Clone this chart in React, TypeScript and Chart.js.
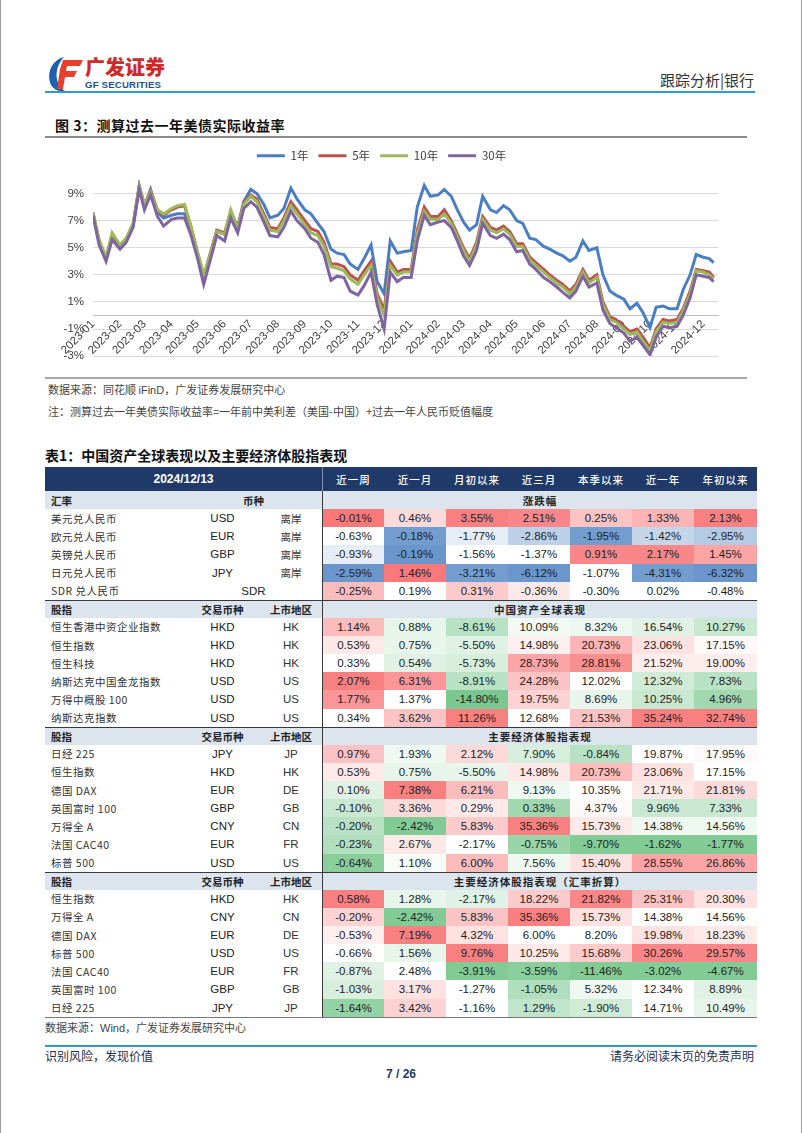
import React, { useEffect, useRef } from "react";
import { Chart, registerables } from "chart.js";
Chart.register(...registerables);

// ---------------- chart data ----------------
const months = [
  "2023-01", "2023-02", "2023-03", "2023-04", "2023-05", "2023-06",
  "2023-07", "2023-08", "2023-09", "2023-10", "2023-11", "2023-12",
  "2024-01", "2024-02", "2024-03", "2024-04", "2024-05", "2024-06",
  "2024-07", "2024-08", "2024-09", "2024-10", "2024-11", "2024-12",
];
const weekDays = ["01", "08", "16", "23"];
const finalDays = ["01", "08", "13"];
const axisEnd = "2024-12-18";
const yTicks = [-3, -1, 1, 3, 5, 7, 9];
const seriesNames = ["1年", "5年", "10年", "30年"];
const seriesColors = ["#4A7EC4", "#C0504D", "#9BBB59", "#8064A2"];

const yield1y = [
  7.6, 5.4, 4.3, 5.9, 5.2, 5.6, 6.6, 9.6, 8.1, 9.3, 7.6, 7.2,
  7.4, 7.5, 7.5, 6.4, 4.5, 2.8, 4.6, 6.2, 6.0, 7.5, 6.5, 8.4,
  9.3, 9.0, 8.2, 7.2, 7.4, 7.9, 9.4, 8.6, 7.8, 7.5, 6.8, 6.2,
  4.9, 4.6, 4.5, 3.8, 3.4, 4.2, 5.2, 2.5, 1.6, 5.5, 4.6, 4.7,
  4.8, 8.0, 9.6, 8.8, 8.9, 9.3, 8.8, 7.8, 6.9, 6.3, 6.7, 8.8,
  7.8, 7.6, 8.1, 7.8, 7.0, 6.8, 5.7, 5.6, 5.1, 4.9, 4.6, 4.4,
  4.0, 4.3, 5.5, 4.8, 5.0, 3.0, 1.8, 1.5, 1.2, 0.5, 0.9, 0.2,
  -0.9, 0.6, 0.7, 0.5, 0.5, 1.9, 3.0, 4.5, 4.3, 4.2, 3.9,
];
const yield5y = [
  7.5, 5.5, 4.2, 6.0, 5.1, 5.6, 6.7, 9.5, 8.1, 9.2, 7.8, 7.4,
  7.8, 8.0, 8.1, 6.6, 4.6, 2.9, 4.7, 6.3, 6.1, 7.7, 6.5, 8.3,
  8.9, 8.6, 7.5, 6.5, 6.4, 7.2, 8.4, 7.8, 7.0, 6.4, 6.2, 5.4,
  3.8, 3.8, 3.6, 3.0, 2.6, 3.3, 4.0, 1.6, 0.4, 4.0, 3.2, 3.4,
  3.4, 6.3, 8.0, 7.3, 7.3, 7.8, 7.0, 6.0, 5.0, 4.2, 5.4, 7.3,
  6.5, 6.3, 6.6, 6.2, 5.3, 5.3, 4.3, 3.9, 3.4, 3.0, 2.6, 2.3,
  1.8, 2.3, 3.4, 2.6, 3.0, 1.0, -0.1, -0.3, -0.8, -1.2, -1.0, -1.6,
  -2.4, -1.0, -0.3, -0.4, -0.3, 0.5, 1.8, 3.4, 3.3, 3.2, 2.8,
];
const yield10y = [
  7.6, 5.6, 4.3, 6.1, 5.2, 5.7, 6.8, 9.5, 8.2, 9.1, 7.8, 7.5,
  7.9, 8.1, 8.2, 6.7, 4.7, 3.0, 4.6, 6.2, 6.0, 7.8, 6.4, 8.2,
  8.8, 8.4, 7.3, 6.3, 6.2, 7.0, 8.1, 7.5, 6.7, 6.1, 5.9, 5.1,
  3.6, 3.5, 3.3, 2.7, 2.3, 3.0, 3.7, 1.3, 0.0, 3.7, 3.0, 3.2,
  3.2, 6.0, 7.7, 7.1, 7.1, 7.5, 6.8, 5.8, 4.8, 4.0, 5.2, 7.1,
  6.3, 6.1, 6.4, 6.0, 5.1, 5.1, 4.1, 3.7, 3.2, 2.8, 2.4, 2.1,
  1.6, 2.1, 3.2, 2.4, 2.8, 0.8, -0.3, -0.5, -1.0, -1.4, -1.2, -1.9,
  -2.6, -1.2, -0.5, -0.6, -0.5, 0.3, 1.6, 3.3, 3.2, 3.0, 2.7,
];
const yield30y = [
  7.4, 5.2, 4.0, 5.6, 4.9, 5.4, 6.5, 9.3, 7.8, 8.9, 7.3, 6.6,
  7.1, 7.2, 7.2, 6.0, 4.2, 2.3, 4.2, 5.9, 5.5, 7.2, 6.1, 7.9,
  8.4, 8.0, 6.9, 5.9, 5.8, 6.5, 7.7, 7.0, 6.4, 5.7, 5.4, 4.5,
  2.6, 2.9, 2.8, 1.8, 1.5, 2.2, 3.2, 0.8, -1.0, 3.2, 2.5, 2.8,
  2.8, 5.5, 7.4, 6.7, 6.9, 7.0, 6.5, 5.5, 4.4, 3.7, 4.8, 6.8,
  5.9, 5.7, 6.0, 5.6, 4.7, 4.8, 3.8, 3.4, 2.8, 2.5, 2.1, 1.7,
  1.3, 1.8, 2.9, 2.1, 2.4, 0.4, -0.6, -0.9, -1.3, -1.9, -1.6, -2.2,
  -2.9, -1.6, -0.8, -0.9, -0.8, 0.0, 1.3, 3.0, 2.9, 2.8, 2.5,
];

// ---------------- table data ----------------
const periods = ["近一周", "近一月", "月初以来", "近三月", "本季以来", "近一年", "年初以来"];

const fxNames = ["美元兑人民币", "欧元兑人民币", "英镑兑人民币", "日元兑人民币", "SDR 兑人民币"];
const fxCodes = ["USD", "EUR", "GBP", "JPY", "SDR"];
const fxMarkets = ["离岸", "离岸", "离岸", "离岸", ""];
const fxValues = [
  [-0.01, 0.46, 3.55, 2.51, 0.25, 1.33, 2.13],
  [-0.63, -0.18, -1.77, -2.86, -1.95, -1.42, -2.95],
  [-0.93, -0.19, -1.56, -1.37, 0.91, 2.17, 1.45],
  [-2.59, 1.46, -3.21, -6.12, -1.07, -4.31, -6.32],
  [-0.25, 0.19, 0.31, -0.36, -0.30, 0.02, -0.48],
];

const cnNames = ["恒生香港中资企业指数", "恒生指数", "恒生科技", "纳斯达克中国金龙指数", "万得中概股 100", "纳斯达克指数"];
const cnCodes = ["HKD", "HKD", "HKD", "USD", "USD", "USD"];
const cnMarkets = ["HK", "HK", "HK", "US", "US", "US"];
const cnValues = [
  [1.14, 0.88, -8.61, 10.09, 8.32, 16.54, 10.27],
  [0.53, 0.75, -5.50, 14.98, 20.73, 23.06, 17.15],
  [0.33, 0.54, -5.73, 28.73, 28.81, 21.52, 19.00],
  [2.07, 6.31, -8.91, 24.28, 12.02, 12.32, 7.83],
  [1.77, 1.37, -14.80, 19.75, 8.69, 10.25, 4.96],
  [0.34, 3.62, 11.26, 12.68, 21.53, 35.24, 32.74],
];

const glNames = ["日经 225", "恒生指数", "德国 DAX", "英国富时 100", "万得全 A", "法国 CAC40", "标普 500"];
const glCodes = ["JPY", "HKD", "EUR", "GBP", "CNY", "EUR", "USD"];
const glMarkets = ["JP", "HK", "DE", "GB", "CN", "FR", "US"];
const glValues = [
  [0.97, 1.93, 2.12, 7.90, -0.84, 19.87, 17.95],
  [0.53, 0.75, -5.50, 14.98, 20.73, 23.06, 17.15],
  [0.10, 7.38, 6.21, 9.13, 10.35, 21.71, 21.81],
  [-0.10, 3.36, 0.29, 0.33, 4.37, 9.96, 7.33],
  [-0.20, -2.42, 5.83, 35.36, 15.73, 14.38, 14.56],
  [-0.23, 2.67, -2.17, -0.75, -9.70, -1.62, -1.77],
  [-0.64, 1.10, 6.00, 7.56, 15.40, 28.55, 26.86],
];

const fxAdjNames = ["恒生指数", "万得全 A", "德国 DAX", "标普 500", "法国 CAC40", "英国富时 100", "日经 225"];
const fxAdjCodes = ["HKD", "CNY", "EUR", "USD", "EUR", "GBP", "JPY"];
const fxAdjMarkets = ["HK", "CN", "DE", "US", "FR", "GB", "JP"];
const fxAdjValues = [
  [0.58, 1.28, -2.17, 18.22, 21.82, 25.31, 20.30],
  [-0.20, -2.42, 5.83, 35.36, 15.73, 14.38, 14.56],
  [-0.53, 7.19, 4.32, 6.00, 8.20, 19.98, 18.23],
  [-0.66, 1.56, 9.76, 10.25, 15.68, 30.26, 29.57],
  [-0.87, 2.48, -3.91, -3.59, -11.46, -3.02, -4.67],
  [-1.03, 3.17, -1.27, -1.05, 5.32, 12.34, 8.89],
  [-1.64, 3.42, -1.16, 1.29, -1.90, 14.71, 10.49],
];

// ---------------- styling (heat-map intensity per cell: + red, - blue/green) ----------------
const fxShade = [
  [0.9, 0.25, 0.85, 0.8, 0.4, 0.5, 0.85],
  [0, -0.85, -0.15, -0.4, -0.85, -0.35, -0.45],
  [-0.15, -0.9, 0, 0, 0.8, 0.8, 0.6],
  [-0.9, 0.9, -0.85, -0.9, 0, -0.85, -0.9],
  [0.45, 0, 0.35, 0.15, 0, 0, 0],
];
const cnShade = [
  [0.45, -0.15, -0.45, -0.08, -0.12, -0.2, -0.35],
  [0.15, -0.15, -0.2, 0.1, 0.5, 0.2, 0.05],
  [0, -0.2, -0.25, 0.6, 0.75, 0.12, 0.12],
  [0.85, 0.7, -0.45, 0.4, 0, -0.3, -0.45],
  [0.7, 0, -0.85, 0.3, -0.15, -0.35, -0.6],
  [0, 0.4, 0.85, 0, 0.4, 0.85, 0.85],
];
const glShade = [
  [0.4, -0.1, 0.25, -0.25, -0.45, 0, 0.05],
  [0.15, -0.15, -0.15, 0.15, 0.45, 0.2, 0],
  [-0.2, 0.85, 0.45, -0.1, 0, 0.15, 0.25],
  [-0.35, 0.25, 0.15, -0.6, 0.05, -0.35, -0.35],
  [-0.45, -0.8, 0.35, 0.85, 0.15, -0.1, -0.1],
  [-0.5, 0.15, 0, -0.65, -0.8, -0.8, -0.8],
  [-0.75, -0.05, 0.45, -0.1, 0.2, 0.6, 0.6],
];
const fxAdjShade = [
  [0.85, -0.15, -0.2, 0.35, 0.8, 0.4, 0.2],
  [0.3, -0.8, 0.4, 0.85, 0.2, 0, 0.02],
  [0.1, 0.85, 0.2, 0, 0, 0.2, 0.15],
  [0, -0.15, 0.85, 0.15, 0.35, 0.8, 0.8],
  [-0.2, 0, -0.8, -0.75, -0.8, -0.8, -0.8],
  [-0.25, 0.2, 0, -0.5, -0.1, 0, -0.2],
  [-0.7, 0.3, 0, -0.4, -0.3, 0, -0.15],
];

const CJK = '"Noto Sans CJK SC", "Noto Sans", sans-serif';
const LAT = '"Liberation Sans", Arial, "Noto Sans CJK SC", sans-serif';

const dayIndex = (s: string) => {
  const [y, m, d] = s.split("-").map(Number);
  return (Date.UTC(y, m - 1, d) - Date.UTC(2023, 0, 1)) / 86400000;
};
const obsDates = months.flatMap((m, i) =>
  (i < months.length - 1 ? weekDays : finalDays).map((d) => `${m}-${d}`)
);
const toPoints = (vals: number[]) => vals.map((v, i) => ({ x: dayIndex(obsDates[i]), y: v }));

const legendSpacing = {
  id: "legendSpacing",
  beforeLayout(chart: any) {
    const lg = chart.legend;
    if (lg && !lg._patched) {
      const orig = lg.fit;
      lg.fit = function () {
        orig.call(this);
        this.height += 8.5;
      };
      lg._patched = true;
    }
  },
};

function YieldChart() {
  const ref = useRef<HTMLCanvasElement>(null);
  useEffect(() => {
    const tickFont = { family: '"Liberation Sans", Arial, sans-serif', size: 11.5 };
    const chart = new Chart(ref.current as HTMLCanvasElement, {
      type: "line",
      data: {
        datasets: [yield1y, yield5y, yield10y, yield30y].map((vals, i) => ({
          label: seriesNames[i],
          data: toPoints(vals),
          borderColor: seriesColors[i],
          backgroundColor: seriesColors[i],
          borderWidth: 3,
          pointRadius: 0,
          tension: 0,
          order: 4 - i,
        })),
      },
      options: {
        responsive: false,
        animation: false,
        layout: { padding: { left: 0, right: 39, top: 0, bottom: 10 } },
        plugins: {
          tooltip: { enabled: false },
          legend: {
            position: "top",
            labels: {
              boxWidth: 28,
              boxHeight: 3,
              padding: 10,
              color: "#404040",
              font: { family: '"Noto Sans CJK SC", "Liberation Sans", sans-serif', size: 11.5 },
              sort: (a: any, b: any) => a.datasetIndex - b.datasetIndex,
              generateLabels: (c: any) =>
                (Chart.defaults.plugins.legend.labels.generateLabels as any)(c).map((l: any) => ({
                  ...l,
                  lineWidth: 0,
                })),
            },
          },
        },
        scales: {
          x: {
            type: "linear",
            min: 0,
            max: dayIndex(axisEnd),
            position: { y: 0 } as any,
            afterBuildTicks: (s: any) => {
              s.ticks = months.map((m) => ({ value: dayIndex(m + "-01") }));
            },
            afterFit: (s: any) => {
              s.height = 0;
            },
            grid: { display: true, drawOnChartArea: false, drawTicks: false },
            border: { display: true, color: "#BFBFBF", width: 1 },
            ticks: {
              autoSkip: false,
              minRotation: 45,
              maxRotation: 45,
              padding: 2,
              color: "#404040",
              font: tickFont,
              callback: (_v: any, i: number) => months[i],
            },
          },
          y: {
            type: "linear",
            min: -3,
            max: 10,
            afterBuildTicks: (s: any) => {
              s.ticks = yTicks.map((v) => ({ value: v }));
            },
            afterFit: (s: any) => {
              s.width = 48;
            },
            grid: { color: "#D9D9D9", drawTicks: false },
            border: { display: false },
            ticks: {
              padding: 9,
              color: "#404040",
              font: tickFont,
              callback: (v: any) => v + "%",
            },
          },
        },
      },
      plugins: [legendSpacing],
    } as any);
    return () => chart.destroy();
  }, []);
  return (
    <canvas
      ref={ref}
      width={712}
      height={232}
      style={{ position: "absolute", left: 45, top: 140, width: 712, height: 232 }}
    />
  );
}

// ---------------- table ----------------
const colW = [140, 75, 62, 62, 62, 62, 62, 62, 62, 63];
const ROW_H = 18.14;
const heat = (s: number, blue: boolean) => {
  const pos = [248, 105, 107];
  const neg = blue ? [90, 138, 198] : [99, 190, 123];
  const c = s >= 0 ? pos : neg;
  const a = Math.min(1, Math.abs(s));
  const mix = c.map((v) => Math.round(255 + (v - 255) * a));
  return `rgb(${mix.join(",")})`;
};
const fmt = (v: number) => v.toFixed(2) + "%";

const cellBase: React.CSSProperties = {
  boxSizing: "border-box",
  height: "100%",
  display: "flex",
  alignItems: "center",
  justifyContent: "center",
  whiteSpace: "nowrap",
  overflow: "hidden",
};

function SectionHeader(props: { first: string; code: string; market?: string; title: string; topLine: boolean }) {
  const w3 = colW.slice(3).reduce((a, b) => a + b, 0);
  return (
    <div
      style={{
        display: "flex",
        height: ROW_H,
        background: "#DCE4EE",
        borderTop: props.topLine ? "1.5px solid #3A3A3A" : "none",
        boxSizing: "border-box",
        fontFamily: CJK,
        fontWeight: 700,
        fontSize: 10.5,
        color: "#222",
      }}
    >
      <div style={{ ...cellBase, width: colW[0], justifyContent: "flex-start", paddingLeft: 6 }}>{props.first}</div>
      {props.market === undefined ? (
        <div style={{ ...cellBase, width: colW[1] + colW[2] }}>{props.code}</div>
      ) : (
        <>
          <div style={{ ...cellBase, width: colW[1] }}>{props.code}</div>
          <div style={{ ...cellBase, width: colW[2] }}>{props.market}</div>
        </>
      )}
      <div style={{ ...cellBase, width: w3, borderLeft: "1.5px solid #3A3A3A", letterSpacing: 1 }}>{props.title}</div>
    </div>
  );
}

function DataRow(props: { name: string; code: string; market: string; values: number[]; shades: number[]; blue: boolean }) {
  const merged = props.market === "";
  return (
    <div style={{ display: "flex", height: ROW_H }}>
      <div
        style={{
          ...cellBase,
          width: colW[0],
          justifyContent: "flex-start",
          paddingLeft: 6,
          fontFamily: CJK,
          fontSize: 10.5,
          color: "#333",
          letterSpacing: 0.5,
        }}
      >
        {props.name}
      </div>
      {merged ? (
        <div style={{ ...cellBase, width: colW[1] + colW[2], fontFamily: LAT, fontSize: 11.5, color: "#222" }}>{props.code}</div>
      ) : (
        <>
          <div style={{ ...cellBase, width: colW[1], fontFamily: LAT, fontSize: 11.5, color: "#222" }}>{props.code}</div>
          <div
            style={{
              ...cellBase,
              width: colW[2],
              fontFamily: /^[A-Z]+$/.test(props.market) ? LAT : CJK,
              fontSize: /^[A-Z]+$/.test(props.market) ? 11.5 : 10.5,
              color: "#333",
            }}
          >
            {props.market}
          </div>
        </>
      )}
      {props.values.map((v, i) => (
        <div
          key={i}
          style={{
            ...cellBase,
            width: colW[3 + i],
            background: heat(props.shades[i], props.blue),
            borderLeft: i === 0 ? "1.5px solid #3A3A3A" : "none",
            fontFamily: LAT,
            fontSize: 11.5,
            color: "#222",
          }}
        >
          {fmt(v)}
        </div>
      ))}
    </div>
  );
}

function PerfTable() {
  return (
    <div style={{ position: "absolute", left: 45, top: 467, width: 712 }}>
      <div style={{ display: "flex", height: 24, background: "#1F3A68", color: "#fff" }}>
        <div
          style={{
            ...cellBase,
            width: colW[0] + colW[1] + colW[2],
            fontFamily: LAT,
            fontWeight: 700,
            fontSize: 12,
          }}
        >
          2024/12/13
        </div>
        {periods.map((p, i) => (
          <div
            key={p}
            style={{
              ...cellBase,
              width: colW[3 + i],
              borderLeft: i === 0 ? "1px solid #8090B0" : "none",
              fontFamily: CJK,
              fontSize: 10.5,
              fontWeight: 500,
              letterSpacing: 1,
            }}
          >
            {p}
          </div>
        ))}
      </div>
      <SectionHeader first="汇率" code="币种" title="涨跌幅" topLine={false} />
      {fxNames.map((n, i) => (
        <DataRow key={n} name={n} code={fxCodes[i]} market={fxMarkets[i]} values={fxValues[i]} shades={fxShade[i]} blue />
      ))}
      <SectionHeader first="股指" code="交易币种" market="上市地区" title="中国资产全球表现" topLine />
      {cnNames.map((n, i) => (
        <DataRow key={n} name={n} code={cnCodes[i]} market={cnMarkets[i]} values={cnValues[i]} shades={cnShade[i]} blue={false} />
      ))}
      <SectionHeader first="股指" code="交易币种" market="上市地区" title="主要经济体股指表现" topLine />
      {glNames.map((n, i) => (
        <DataRow key={n} name={n} code={glCodes[i]} market={glMarkets[i]} values={glValues[i]} shades={glShade[i]} blue={false} />
      ))}
      <SectionHeader first="股指" code="交易币种" market="上市地区" title="主要经济体股指表现（汇率折算）" topLine />
      {fxAdjNames.map((n, i) => (
        <DataRow key={n} name={n} code={fxAdjCodes[i]} market={fxAdjMarkets[i]} values={fxAdjValues[i]} shades={fxAdjShade[i]} blue={false} />
      ))}
      <div style={{ height: 1, background: "#777" }} />
    </div>
  );
}

function Logo() {
  return (
    <>
      <svg width="40" height="40" viewBox="0 0 40 40" style={{ position: "absolute", left: 46, top: 54 }}>
        <path d="M18 3 C 6 6, 0 19, 5 31 C 8 36, 13 38, 19 37 C 9 31, 7 15, 18 3 Z" fill="#1D5FB0" />
        <path d="M17 6 H37 L34 12 H21 L20 17 H31 L28 23 H19 L17 35 H11 L14 15 Z" fill="#E8402C" />
      </svg>
      <div
        style={{
          position: "absolute",
          left: 85,
          top: 54,
          fontSize: 20,
          lineHeight: "26px",
          fontWeight: 900,
          color: "#CF2A27",
          fontFamily: CJK,
          whiteSpace: "nowrap",
        }}
      >
        广发证券
      </div>
      <div
        style={{
          position: "absolute",
          left: 85,
          top: 79,
          fontSize: 9.6,
          lineHeight: "12px",
          fontWeight: 700,
          color: "#1D4F98",
          fontFamily: LAT,
          letterSpacing: 0.2,
          whiteSpace: "nowrap",
        }}
      >
        GF SECURITIES
      </div>
    </>
  );
}

export default function App() {
  const abs = (l: number, t: number, extra: React.CSSProperties = {}): React.CSSProperties => ({
    position: "absolute",
    left: l,
    top: t,
    whiteSpace: "nowrap",
    ...extra,
  });
  return (
    <div
      style={{
        position: "absolute",
        left: 0,
        top: 0,
        width: 802,
        height: 1133,
        background: "#fff",
        overflow: "hidden",
        fontFamily: CJK,
      }}
    >
      <div style={abs(0, 0, { width: 1, height: 1133, background: "#9A9A9A" })} />
      <div style={abs(801, 0, { width: 1, height: 1133, background: "#9A9A9A" })} />

      <Logo />
      <div style={abs(0, 70, { width: 754, textAlign: "right", fontSize: 15, color: "#333", lineHeight: "20px" })}>
        跟踪分析|银行
      </div>
      <div style={abs(45, 91, { width: 710, height: 2, background: "#2F9AD6" })} />

      <div style={abs(55, 115, { fontSize: 14, fontWeight: 700, color: "#111", lineHeight: "20px", letterSpacing: 0.5 })}>
        图 3：测算过去一年美债实际收益率
      </div>
      <div style={abs(45, 136, { width: 702, height: 1.5, background: "#8A8A8A" })} />

      <YieldChart />

      <div style={abs(45, 377, { width: 702, height: 2, background: "#A6A6A6" })} />
      <div style={abs(48, 381, { fontSize: 11, color: "#444", lineHeight: "16px" })}>
        数据来源：同花顺 <span style={{ fontFamily: LAT }}>iFinD</span>，广发证券发展研究中心
      </div>
      <div style={abs(48, 403, { fontSize: 11, color: "#444", lineHeight: "16px" })}>
        注：测算过去一年美债实际收益率=一年前中美利差（美国-中国）+过去一年人民币贬值幅度
      </div>

      <div style={abs(45, 445, { fontSize: 14, fontWeight: 700, color: "#111", lineHeight: "20px" })}>
        表1：中国资产全球表现以及主要经济体股指表现
      </div>

      <PerfTable />

      <div style={abs(45, 1019, { fontSize: 11, color: "#444", lineHeight: "16px" })}>
        数据来源：<span style={{ fontFamily: LAT }}>Wind</span>，广发证券发展研究中心
      </div>

      <div style={abs(45, 1045, { width: 712, height: 2, background: "#2F9AD6" })} />
      <div style={abs(45, 1048, { fontSize: 12, color: "#1F2F4F", lineHeight: "16px" })}>识别风险，发现价值</div>
      <div style={abs(0, 1048, { width: 754, textAlign: "right", fontSize: 12, color: "#1F2F4F", lineHeight: "16px" })}>
        请务必阅读末页的免责声明
      </div>
      <div
        style={abs(0, 1066, {
          width: 802,
          textAlign: "center",
          fontSize: 12,
          fontWeight: 700,
          color: "#1F3A68",
          fontFamily: LAT,
          lineHeight: "16px",
        })}
      >
        7 / 26
      </div>
    </div>
  );
}
